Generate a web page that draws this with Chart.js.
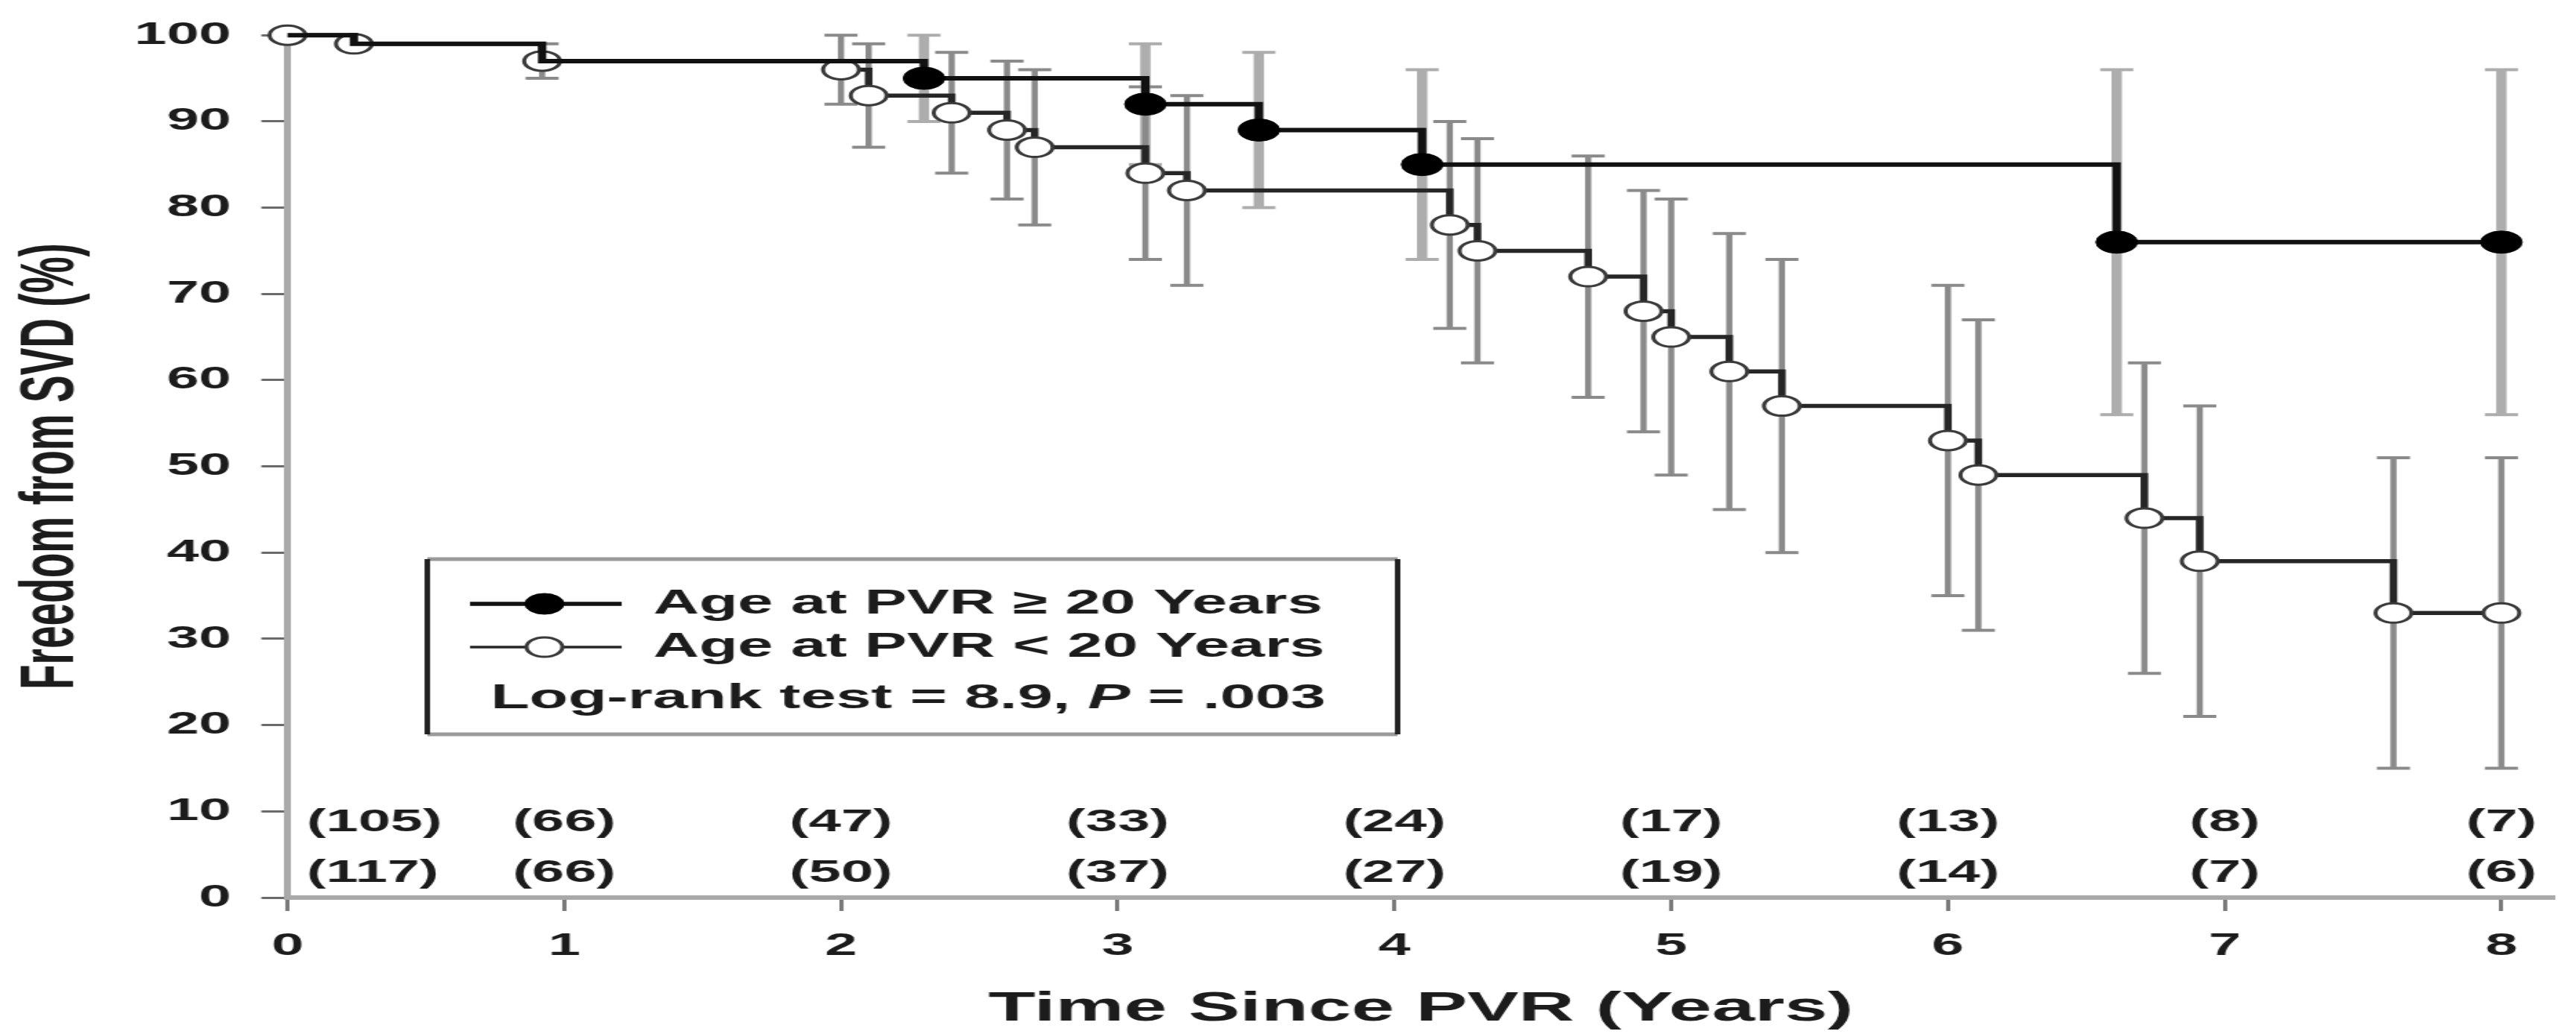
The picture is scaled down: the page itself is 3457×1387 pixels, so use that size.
<!DOCTYPE html>
<html lang="en">

<head>
    <meta charset="UTF-8">
    <meta name="viewport" content="width=device-width, initial-scale=1.0">
    <title>Freedom from SVD</title>
    <style>
        html, body { margin: 0; padding: 0; background: #fff; overflow: hidden; }
        #kmChart { display: block; }
    </style>
</head>

<body>
    <!-- the original figure is stretched sideways, so the canvas is drawn narrow and widened by css -->
    <canvas id="kmChart" width="1869" height="1387" style="width:3457px;height:1387px"></canvas>

    <script src="https://cdn.jsdelivr.net/npm/chart.js@4.4.1/dist/chart.umd.min.js"></script>
    <script>

        // Age at PVR >= 20 years (filled circles)
        const oldTime = [0, 0.24, 0.92, 2.30, 3.10, 3.51, 4.10, 6.61, 8.00];
        const oldSurv = [100, 99, 97, 95, 92, 89, 85, 76, 76];
        const oldLow = [null, null, null, 90, 85, 80, 74, 56, 56];
        const oldHigh = [null, null, null, 100, 99, 98, 96, 96, 96];

        // Age at PVR < 20 years (open circles)
        const youngTime = [0, 0.24, 0.92, 2.00, 2.10, 2.40, 2.60, 2.70, 3.10, 3.25, 4.20, 4.30,
            4.70, 4.90, 5.00, 5.21, 5.40, 6.00, 6.11, 6.71, 6.91, 7.61, 8.00];
        const youngSurv = [100, 99, 97, 96, 93, 91, 89, 87, 84, 82, 78, 75,
            72, 68, 65, 61, 57, 53, 49, 44, 39, 33, 33];
        const youngLow = [null, null, 95, 92, 87, 84, 81, 78, 74, 71, 66, 62,
            58, 54, 49, 45, 40, 35, 31, 26, 21, 15, 15];
        const youngHigh = [null, null, 99, 100, 99, 98, 97, 96, 94, 93, 90, 88,
            86, 82, 81, 77, 74, 71, 67, 62, 57, 51, 51];

        // numbers at risk
        const riskTime = [0, 1, 2, 3, 4, 5, 6, 7, 8];
        const riskOld = [105, 66, 47, 33, 24, 17, 13, 8, 7];
        const riskYoung = [117, 66, 50, 37, 27, 19, 14, 7, 6];

        const xTicks = [0, 1, 2, 3, 4, 5, 6, 7, 8];
        const yTicks = [0, 10, 20, 30, 40, 50, 60, 70, 80, 90, 100];

        const legendLabels = ['Age at PVR \u2265 20 Years', 'Age at PVR < 20 Years'];
        const logRankText = ['Log-rank test = 8.9, ', 'P', ' = .003'];

        const ink = '#1c1c1c';
        const fontFamily = "'Liberation Sans', Arial, sans-serif";
        Chart.defaults.font.family = fontFamily;
        Chart.defaults.color = ink;

        function toPoints(xs, ys) {
            return xs.map((t, i) => ({ x: t, y: ys[i] }));
        }

        const kmExtras = {
            id: 'kmExtras',
            beforeDatasetsDraw(chart) {
                const { ctx, scales: { x, y } } = chart;
                const sets = [
                    { t: oldTime, lo: oldLow, hi: oldHigh, color: '#adadad', width: 7.5 },
                    { t: youngTime, lo: youngLow, hi: youngHigh, color: '#8a8a8a', width: 4.5 }
                ];
                ctx.save();
                sets.forEach(s => {
                    ctx.strokeStyle = s.color;
                    s.t.forEach((t, i) => {
                        if (s.lo[i] == null) return;
                        const px = x.getPixelForValue(t);
                        const top = y.getPixelForValue(s.hi[i]);
                        const bot = y.getPixelForValue(s.lo[i]);
                        ctx.lineWidth = s.width;
                        ctx.beginPath();
                        ctx.moveTo(px, top);
                        ctx.lineTo(px, bot);
                        ctx.stroke();
                        ctx.lineWidth = 4;
                        ctx.beginPath();
                        ctx.moveTo(px - 12, top); ctx.lineTo(px + 12, top);
                        ctx.moveTo(px - 12, bot); ctx.lineTo(px + 12, bot);
                        ctx.stroke();
                    });
                });
                ctx.restore();
            },
            afterDraw(chart) {
                const { ctx, scales: { x } } = chart;
                ctx.save();

                // numbers at risk, two rows above the time axis
                ctx.fillStyle = ink;
                ctx.font = 'bold 42px ' + fontFamily;
                ctx.textBaseline = 'middle';
                riskTime.forEach((t, i) => {
                    let px = x.getPixelForValue(t);
                    ctx.textAlign = 'center';
                    if (i === 0) { px += 14; ctx.textAlign = 'left'; }
                    ctx.fillText('(' + riskOld[i] + ')', px, 1103);
                    ctx.fillText('(' + riskYoung[i] + ')', px, 1171);
                });

                // legend box
                const box = { l: 310, t: 750, r: 1014, b: 985 };
                ctx.fillStyle = '#fff';
                ctx.fillRect(box.l, box.t, box.r - box.l, box.b - box.t);
                ctx.strokeStyle = '#9a9a9a';
                ctx.lineWidth = 5;
                ctx.beginPath();
                ctx.moveTo(box.l, box.t); ctx.lineTo(box.r, box.t);
                ctx.moveTo(box.l, box.b); ctx.lineTo(box.r, box.b);
                ctx.stroke();
                ctx.strokeStyle = '#222';
                ctx.lineWidth = 4;
                ctx.beginPath();
                ctx.moveTo(box.l, box.t); ctx.lineTo(box.l, box.b);
                ctx.moveTo(box.r, box.t); ctx.lineTo(box.r, box.b);
                ctx.stroke();

                const rowY = [810, 868];
                chart.data.datasets.forEach((ds, i) => {
                    const yy = rowY[i];
                    ctx.strokeStyle = ds.borderColor;
                    ctx.lineWidth = i === 0 ? 5.5 : 3.5;
                    ctx.beginPath();
                    ctx.moveTo(341, yy);
                    ctx.lineTo(451, yy);
                    ctx.stroke();
                    ctx.beginPath();
                    ctx.arc(395, yy, i === 0 ? 14 : 13, 0, Math.PI * 2);
                    ctx.fillStyle = ds.pointBackgroundColor;
                    ctx.fill();
                    ctx.lineWidth = ds.pointBorderWidth;
                    ctx.strokeStyle = ds.pointBorderColor;
                    ctx.stroke();
                    ctx.fillStyle = ink;
                    ctx.font = 'bold 46px ' + fontFamily;
                    ctx.textAlign = 'left';
                    ctx.fillText(ds.label, 474, yy);
                });

                // log-rank line, P in italics
                let tx = 356;
                logRankText.forEach((part, i) => {
                    ctx.font = (i === 1 ? 'italic bold 46px ' : 'bold 46px ') + fontFamily;
                    ctx.fillText(part, tx, 937);
                    tx += ctx.measureText(part).width;
                });

                ctx.restore();
            }
        };

        const ctx = document.getElementById('kmChart').getContext('2d');
        const chart = new Chart(ctx, {
            type: 'line',
            data: {
                datasets: [{
                    label: legendLabels[0],
                    data: toPoints(oldTime, oldSurv),
                    stepped: 'before',
                    borderColor: '#111',
                    borderWidth: 6,
                    pointRadius: c => (c.dataIndex < 3 ? 0 : 15),
                    pointHoverRadius: c => (c.dataIndex < 3 ? 0 : 15),
                    pointBackgroundColor: '#000',
                    pointBorderColor: '#000',
                    pointBorderWidth: 1,
                    clip: false
                }, {
                    label: legendLabels[1],
                    data: toPoints(youngTime, youngSurv),
                    stepped: 'before',
                    borderColor: '#262626',
                    borderWidth: 5.5,
                    pointRadius: 13,
                    pointHoverRadius: 13,
                    pointBackgroundColor: '#fff',
                    pointBorderColor: '#3a3a3a',
                    pointBorderWidth: 3,
                    clip: false
                }]
            },
            options: {
                responsive: false,
                devicePixelRatio: 1,
                animation: false,
                events: [],
                layout: { padding: { top: 46, right: 0, bottom: 0, left: 0 } },
                plugins: {
                    legend: { display: false },
                    tooltip: { enabled: false }
                },
                scales: {
                    x: {
                        type: 'linear',
                        min: 0,
                        max: 8.19,
                        afterBuildTicks: s => { s.ticks = xTicks.map(v => ({ value: v })); },
                        afterFit: s => { s.height = 183; },
                        border: { color: '#a9a9a9', width: 6 },
                        grid: { drawOnChartArea: false, tickLength: 18, tickColor: '#7a7a7a', tickWidth: 3 },
                        ticks: { font: { size: 42, weight: 'bold' }, padding: 22, color: ink },
                        title: {
                            display: true,
                            text: 'Time Since PVR (Years)',
                            font: { size: 56, weight: 'bold' },
                            padding: { top: 0, bottom: 0 },
                            color: ink
                        }
                    },
                    y: {
                        min: 0,
                        max: 100,
                        afterBuildTicks: s => { s.ticks = yTicks.map(v => ({ value: v })); },
                        afterFit: s => { s.width = 208.6; },
                        border: { color: '#a9a9a9', width: 5 },
                        grid: { drawOnChartArea: false, tickLength: 19, tickColor: '#6a6a6a', tickWidth: 3 },
                        ticks: { font: { size: 42, weight: 'bold' }, padding: 22, color: ink },
                        title: {
                            display: true,
                            text: 'Freedom from SVD (%)',
                            font: { size: 55, weight: 'bold' },
                            padding: { top: 5, bottom: 0 },
                            color: ink
                        }
                    }
                }
            },
            plugins: [kmExtras]
        });

        chart.canvas.style.width = '3457px';
        chart.canvas.style.height = '1387px';
    </script>
</body>

</html>
